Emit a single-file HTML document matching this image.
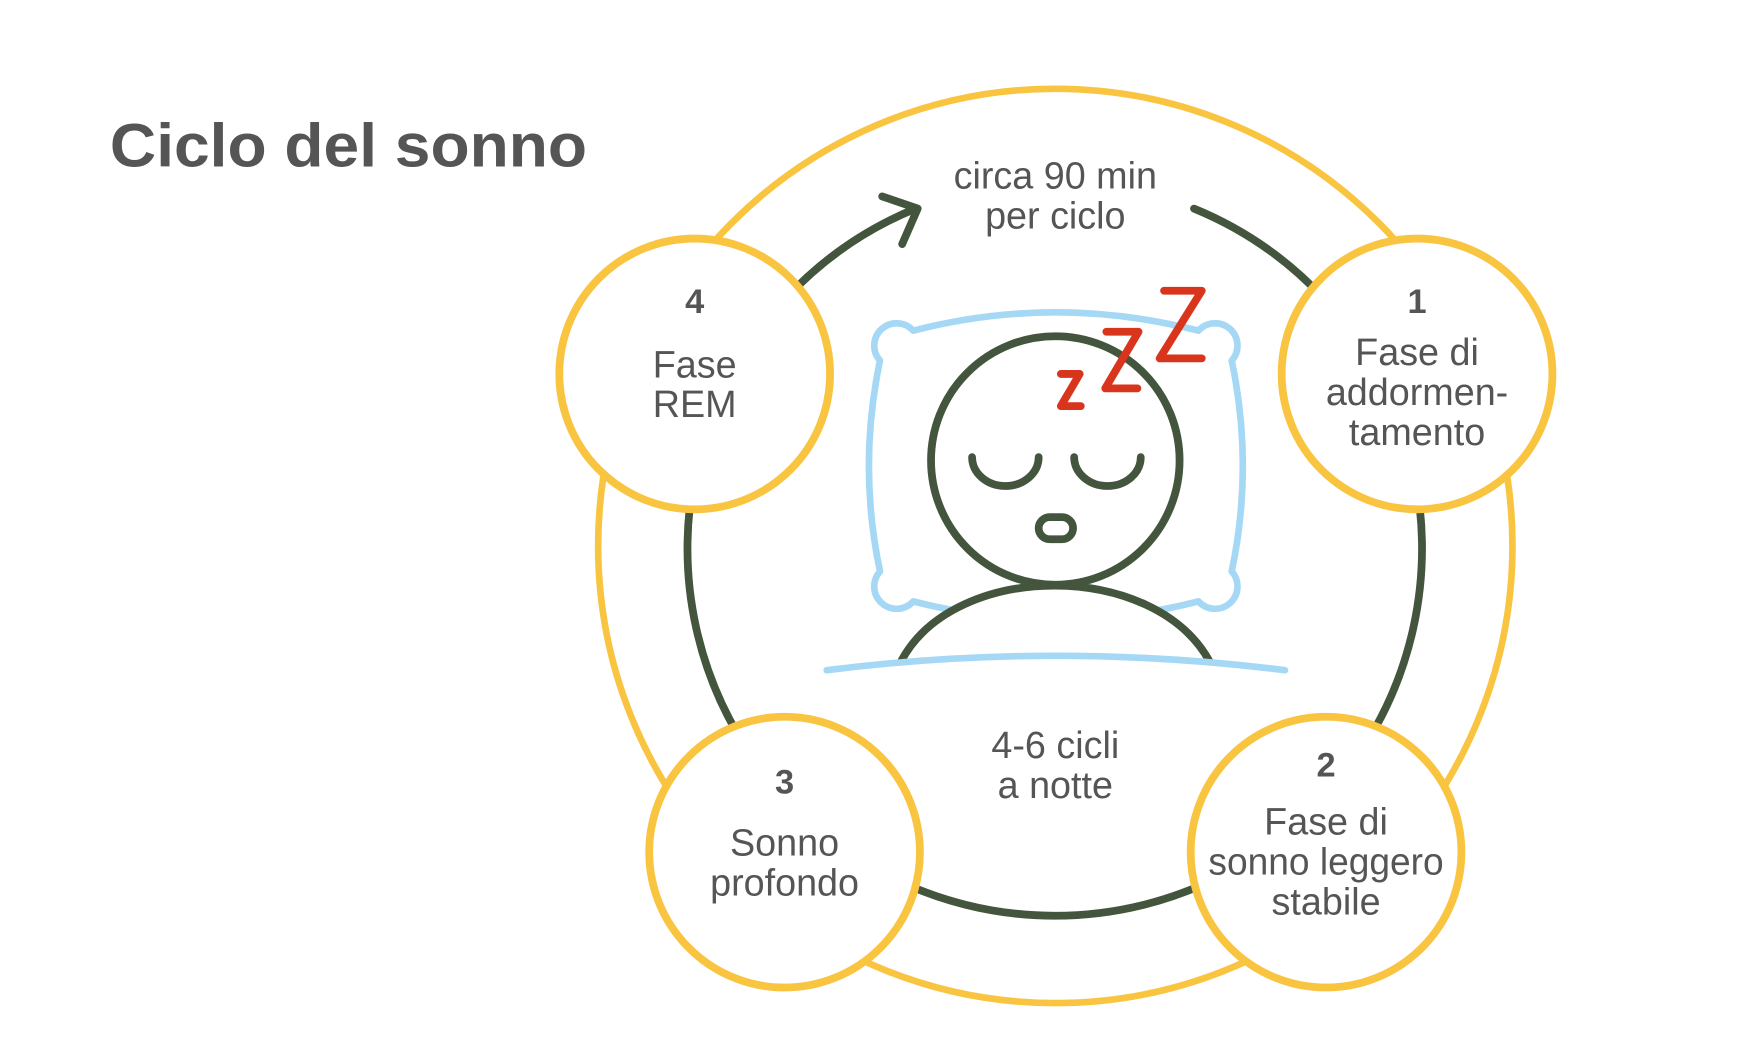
<!DOCTYPE html>
<html><head><meta charset="utf-8"><style>
html,body{margin:0;padding:0;background:#fff;}
svg{display:block}
text{font-family:"Liberation Sans",Arial,sans-serif;fill:#555;}
</style></head><body>
<svg width="1740" height="1063" viewBox="0 0 1568 958" xmlns="http://www.w3.org/2000/svg">
<rect width="1568" height="958" fill="#fff"/>
<text x="99" y="150" font-size="55" font-weight="bold" fill="#555" textLength="430" lengthAdjust="spacingAndGlyphs">Ciclo del sonno</text>
<circle cx="951" cy="492" r="412" fill="none" stroke="#f9c440" stroke-width="6"/>
<path d="M 1076 188 A 331 331 0 1 1 825 188" fill="none" stroke="#44553d" stroke-width="7" stroke-linecap="round"/>
<polyline points="795,177 827,188 813,220" fill="none" stroke="#44553d" stroke-width="7" stroke-linecap="round" stroke-linejoin="round"/>
<g font-size="34" text-anchor="middle">
<text x="951" y="170">circa 90 min</text>
<text x="951" y="206">per ciclo</text>
<text x="951" y="683">4-6 cicli</text>
<text x="951" y="719">a notte</text>
</g>
<path d="M 823 298 Q 951 265 1080 298 A 17 17 0 1 1 1110 325 Q 1130 420 1110 515 A 17 17 0 1 1 1080 542 Q 951 575 823 542 A 17 17 0 1 1 793 515 Q 773 420 793 325 A 17 17 0 1 1 823 298 Z" fill="#fff" stroke="#a5d8f5" stroke-width="6" stroke-linejoin="round"/>
<path d="M 812 596 C 860 505 1040 505 1090 596" fill="#fff" stroke="#44553d" stroke-width="7"/>
<circle cx="951" cy="415" r="112" fill="#fff" stroke="#44553d" stroke-width="7"/>
<path d="M 876 412 A 30 26 0 0 0 936 412" fill="none" stroke="#44553d" stroke-width="7" stroke-linecap="round"/>
<path d="M 968 412 A 30 26 0 0 0 1028 412" fill="none" stroke="#44553d" stroke-width="7" stroke-linecap="round"/>
<rect x="936" y="466" width="31" height="20" rx="10" fill="none" stroke="#44553d" stroke-width="7"/>
<path d="M 745 604 Q 951 578 1158 604" fill="none" stroke="#a5d8f5" stroke-width="6" stroke-linecap="round"/>
<polyline points="956,337 973,337 956,366 974,366" fill="none" stroke="#d9341c" stroke-width="7" stroke-linecap="round" stroke-linejoin="round"/>
<polyline points="997,299 1026,299 996,350 1025,350" fill="none" stroke="#d9341c" stroke-width="7" stroke-linecap="round" stroke-linejoin="round"/>
<polyline points="1049,262 1083,262 1045,323 1083,323" fill="none" stroke="#d9341c" stroke-width="7" stroke-linecap="round" stroke-linejoin="round"/>
<g fill="#fff" stroke="#f9c440" stroke-width="7">
<circle cx="626" cy="337" r="122"/>
<circle cx="1277" cy="337" r="122"/>
<circle cx="707" cy="768" r="122"/>
<circle cx="1195" cy="768" r="122"/>
</g>
<g font-size="34" text-anchor="middle">
<text x="626" y="282" font-weight="bold" font-size="31">4</text>
<text x="626" y="340">Fase</text>
<text x="626" y="376">REM</text>
<text x="1277" y="282" font-weight="bold" font-size="31">1</text>
<text x="1277" y="329">Fase di</text>
<text x="1277" y="365">addormen-</text>
<text x="1277" y="401">tamento</text>
<text x="707" y="715" font-weight="bold" font-size="31">3</text>
<text x="707" y="771">Sonno</text>
<text x="707" y="807">profondo</text>
<text x="1195" y="700" font-weight="bold" font-size="31">2</text>
<text x="1195" y="752">Fase di</text>
<text x="1195" y="788" textLength="212" lengthAdjust="spacingAndGlyphs">sonno leggero</text>
<text x="1195" y="824">stabile</text>
</g>
</svg>
</body></html>
